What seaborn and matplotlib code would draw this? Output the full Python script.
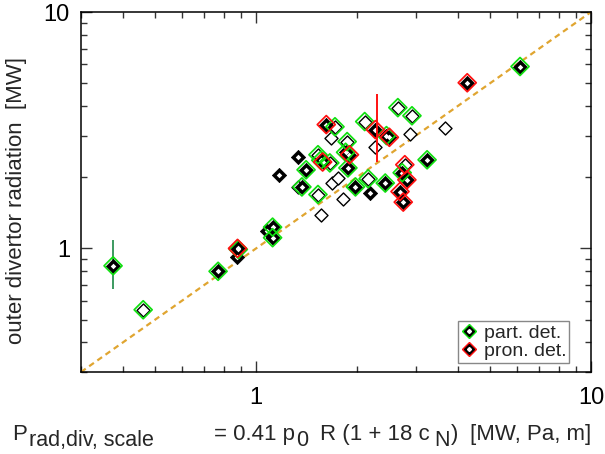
import matplotlib
matplotlib.use("Agg")
import matplotlib.pyplot as plt
import seaborn as sns
import numpy as np
import pandas as pd
from matplotlib.lines import Line2D
from matplotlib.legend_handler import HandlerTuple
from matplotlib.transforms import IdentityTransform
from matplotlib.ticker import FixedLocator, FixedFormatter, NullFormatter, LogLocator

# ---------------- data ----------------
x_scale = [0.374, 0.46, 0.77, 0.88, 0.885, 0.875, 1.12, 1.12, 1.08,
           4.27, 6.14, 2.27, 2.50, 2.45, 2.65, 2.92, 3.67, 2.88, 2.11, 2.26,
           1.62, 1.72, 1.67, 1.33, 1.87, 1.90, 1.85, 1.58, 1.56, 1.66, 1.88,
           1.17, 1.41, 1.37, 1.33, 1.53, 1.69, 1.76, 1.82, 1.56, 1.98, 2.16,
           2.19, 2.43, 3.24, 2.78, 2.73, 2.82, 2.69, 2.75, 1.53]
p_rad = [0.844, 0.55, 0.80, 1.00, 0.99, 0.92, 1.23, 1.11, 1.19,
         5.02, 5.88, 3.18, 2.95, 3.00, 3.94, 3.64, 3.24, 3.05, 3.44, 2.69,
         3.34, 3.27, 2.94, 2.44, 2.83, 2.49, 2.55, 2.32, 2.36, 2.30, 2.19,
         2.05, 2.15, 1.82, 1.82, 1.69, 1.89, 1.99, 1.62, 1.39, 1.82, 1.97,
         1.72, 1.89, 2.37, 2.26, 2.09, 1.95, 1.74, 1.57, 2.49]
thick = [1, 0, 1, 1, 1, 1, 1, 1, 1,
         1, 1, 1, 1, 1, 0, 0, 0, 0, 0, 0,
         1, 0, 0, 1, 0, 1, 1, 1, 1, 0, 1,
         1, 1, 1, 0, 0, 0, 0, 0, 0, 1, 0,
         1, 1, 1, 0, 1, 1, 1, 1, 0]
detach = ["part", "part", "part", "pron", "part", "", "part", "part", "",
          "pron", "part", "pron", "pron", "part", "part", "part", "", "", "part", "",
          "pron", "part", "", "", "part", "pron", "part", "pron", "part", "part", "part",
          "", "part", "part", "", "part", "", "", "", "", "part", "part",
          "", "part", "part", "pron", "part", "pron", "pron", "pron", "part"]

# error bars: (x, y_low, y_high)
err_part = (0.374, 0.675, 1.087)
err_pron = (2.30, 2.33, 4.51)

legend_labels = ["part. det.", "pron. det."]
x_ticks = [1, 10]
y_ticks = [1, 10]
x_lim = (0.3, 10)
y_lim = (0.3, 10)
y_title = "outer divertor radiation  [MW]"
# x title pieces: (text, is_subscript)
x_title = [("P", False), ("rad,div, scale", True), ("= 0.41 p", False), ("0", True),
           ("R (1 + 18 c", False), ("N", True), (")", False), ("[MW, Pa, m]", False)]

df = pd.DataFrame({"x": x_scale, "y": p_rad, "thick": thick, "det": detach})

# ---------------- style ----------------
sns.set_theme(style="ticks")
plt.rcParams["font.family"] = ["Liberation Sans", "DejaVu Sans"]

GREEN = "#10e010"
RED = "#ff1010"

fig = plt.figure(figsize=(6.05, 4.54), dpi=100)
ax = fig.add_axes([81 / 605, 82 / 454, 510 / 605, 360 / 454])
ax.set_xscale("log")
ax.set_yscale("log")

# y = x reference line
sns.lineplot(x=list(x_lim), y=list(y_lim), ax=ax, color="#e0a530",
             linewidth=1.6, linestyle=(0, (2.6, 1.9)), zorder=2)

# error bars
ax.vlines(err_part[0], err_part[1], err_part[2], color="#3c9a60", linewidth=1.4, zorder=2)
ax.vlines(err_pron[0], err_pron[1], err_pron[2], color=RED, linewidth=1.4, zorder=6)

# black open diamonds
d_open = df[df.thick == 0]
sns.scatterplot(data=d_open, x="x", y="y", ax=ax, marker="D", s=44,
                facecolor="white", edgecolor="black", linewidth=1.0, zorder=3, legend=False)
# black thick diamonds
d_thick = df[df.thick == 1]
sns.scatterplot(data=d_thick, x="x", y="y", ax=ax, marker="D", s=52,
                color="black", edgecolor="black", linewidth=0.6, zorder=3, legend=False)
sns.scatterplot(data=d_thick, x="x", y="y", ax=ax, marker="D", s=8,
                color="white", edgecolor="white", linewidth=0, zorder=3.5, legend=False)
# green / red overlays
d_part = df[df.det == "part"]
sns.scatterplot(data=d_part, x="x", y="y", ax=ax, marker="D", s=84,
                facecolor="none", edgecolor=GREEN, linewidth=1.25, zorder=4, legend=False)
d_pron = df[df.det == "pron"]
sns.scatterplot(data=d_pron, x="x", y="y", ax=ax, marker="D", s=84,
                facecolor="none", edgecolor=RED, linewidth=1.25, zorder=5, legend=False)

ax.set_xlim(*x_lim)
ax.set_ylim(*y_lim)

for axis, ticks in ((ax.xaxis, x_ticks), (ax.yaxis, y_ticks)):
    axis.set_major_locator(FixedLocator(ticks))
    axis.set_major_formatter(FixedFormatter([str(t) for t in ticks]))
    axis.set_minor_locator(LogLocator(base=10, subs=np.arange(2, 10)))
    axis.set_minor_formatter(NullFormatter())

ax.tick_params(which="both", direction="in", top=True, right=True,
               color="#333333", width=1.0, labelsize=17, labelcolor="black")
ax.tick_params(which="major", length=8)
ax.tick_params(which="minor", length=4.5)
ax.tick_params(axis="x", which="major", pad=11)
ax.tick_params(axis="y", which="major", pad=8)
for sp in ax.spines.values():
    sp.set_color("black")
    sp.set_linewidth(1.1)
ax.set_xlabel("")
ax.set_ylabel("")

# legend
def handle(col):
    return (Line2D([], [], marker="D", linestyle="none", markersize=7.5,
                   markerfacecolor=col, markeredgecolor=col),
            Line2D([], [], marker="D", linestyle="none", markersize=5.5,
                   markerfacecolor="black", markeredgecolor="black"),
            Line2D([], [], marker="D", linestyle="none", markersize=2,
                   markerfacecolor="white", markeredgecolor="white"))

leg = ax.legend([handle(GREEN), handle(RED)], legend_labels,
                handler_map={tuple: HandlerTuple(ndivide=1)},
                loc="lower right", bbox_to_anchor=(0.957, 0.025),
                fontsize=14, frameon=True, fancybox=False, framealpha=1,
                edgecolor="#888888", borderpad=0.15, labelspacing=0.05,
                handlelength=0.8, handletextpad=0.35, borderaxespad=0.0)
leg.get_frame().set_linewidth(1.0)

# y title
fig.text(17 / 605, 1 - 200 / 454, y_title, rotation=90,
         ha="center", va="center", fontsize=16)

# x title assembled piece by piece (IDL-like subscripts)
renderer = fig.canvas.get_renderer()
gaps = [0, 2, 60, 1, 12, 5, 1, 12]
x_px = 12.0
base_px = 14
for (txt, sub), gap in zip(x_title, gaps):
    x_px += gap
    t = fig.text(x_px, base_px - (6 if sub else 0), txt,
                 fontsize=15.5 if sub else 16, transform=IdentityTransform(),
                 ha="left", va="baseline")
    x_px = t.get_window_extent(renderer=renderer).x1

fig.savefig("out.png", dpi=100)
